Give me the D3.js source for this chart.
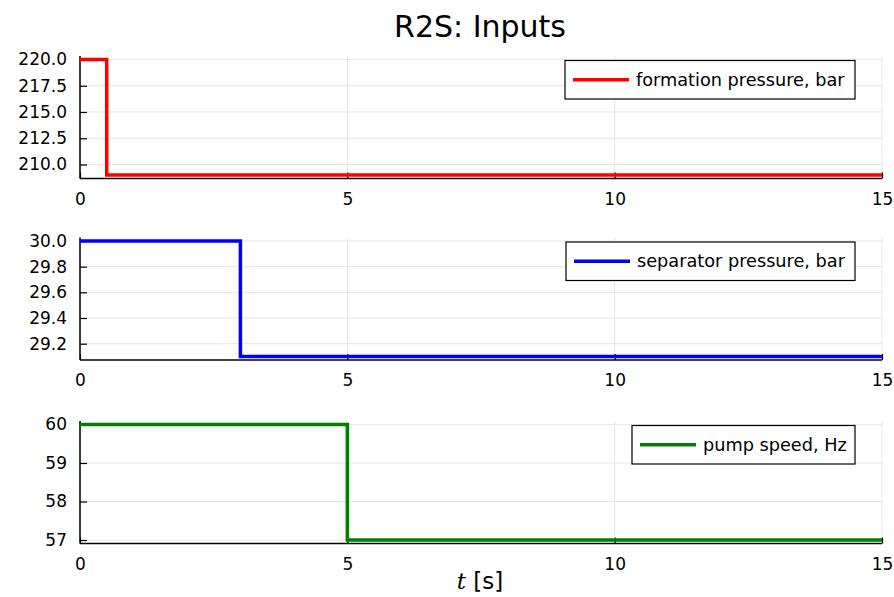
<!DOCTYPE html>
<html><head><meta charset="utf-8">
<script src="https://cdn.jsdelivr.net/npm/d3@7"></script>
<style>body{margin:0;background:#fff}svg{display:block}text{font-family:"DejaVu Sans",sans-serif}</style>
</head><body><svg id="c" width="894" height="597"></svg>
<script>
const title = "R2S: Inputs";
const xTicks = [0, 5, 10, 15];
const formationT = [0, 0.5, 15];
const formationP = [220, 209, 209];
const separatorT = [0, 3, 15];
const separatorP = [30, 29.1, 29.1];
const pumpT = [0, 5, 15];
const pumpHz = [60, 57, 57];
const yTicks1 = [210, 212.5, 215, 217.5, 220];
const yTicks2 = [29.2, 29.4, 29.6, 29.8, 30.0];
const yTicks3 = [57, 58, 59, 60];
const labels = ["formation pressure, bar", "separator pressure, bar", "pump speed, Hz"];
const colors = ["#ff0000", "#0000ff", "#008000"];

const panels = [
  {t: formationT, v: formationP, ticks: yTicks1, fmt: d3.format(".1f"), top: 56, legW: 290},
  {t: separatorT, v: separatorP, ticks: yTicks2, fmt: d3.format(".1f"), top: 237.5, legW: 289},
  {t: pumpT, v: pumpHz, ticks: yTicks3, fmt: d3.format("d"), top: 421, legW: 223}
];
const H = 122.5, L = 80, R = 882;
const svg = d3.select("#c");
const x = d3.scaleLinear().domain([0, 15]).range([L, R]);

svg.append("text").attr("x", 480).attr("y", 37).attr("text-anchor", "middle")
  .attr("font-size", 30).attr("fill", "#000").text(title);

panels.forEach((p, i) => {
  const mn = d3.min(p.v), mx = d3.max(p.v), pad = (mx - mn) * 0.03;
  const y = d3.scaleLinear().domain([mn - pad, mx + pad]).range([p.top + H, p.top]);
  const g = svg.append("g");
  g.selectAll(".gx").data(xTicks).join("line")
    .attr("x1", d => x(d)).attr("x2", d => x(d)).attr("y1", p.top).attr("y2", p.top + H)
    .attr("stroke", "#e6e6e6").attr("stroke-width", 1);
  g.selectAll(".gy").data(p.ticks).join("line")
    .attr("x1", L).attr("x2", R).attr("y1", d => y(d)).attr("y2", d => y(d))
    .attr("stroke", "#e6e6e6").attr("stroke-width", 1);
  const ax = g.append("g").attr("transform", `translate(0,${p.top + H})`)
    .call(d3.axisBottom(x).tickValues(xTicks).tickSize(-6).tickPadding(14).tickFormat(d3.format("d")));
  const ay = g.append("g").attr("transform", `translate(${L},0)`)
    .call(d3.axisLeft(y).tickValues(p.ticks).tickSize(-7).tickPadding(13).tickFormat(p.fmt));
  [ax, ay].forEach(a => {
    a.select(".domain").attr("stroke", "#000").attr("stroke-width", 1.5);
    a.selectAll(".tick line").attr("stroke", "#000").attr("stroke-width", 1.2);
    a.selectAll(".tick text").attr("font-size", 17).attr("fill", "#000").attr("font-family", "DejaVu Sans");
  });
  ay.select(".domain").attr("d", `M0,${p.top}V${p.top + H}`);
  ax.select(".domain").attr("d", `M${L},0H${R}`);
  const pts = p.t.map((t, k) => [t, p.v[k]]);
  g.append("path").datum(pts)
    .attr("d", d3.line().x(d => x(d[0])).y(d => y(d[1])).curve(d3.curveStepAfter))
    .attr("fill", "none").attr("stroke", colors[i]).attr("stroke-width", 3.5);
  const lx = 855 - p.legW, ly = p.top + 4.5, lh = 38.5;
  const lg = g.append("g");
  lg.append("rect").attr("x", lx).attr("y", ly).attr("width", p.legW).attr("height", lh)
    .attr("fill", "#fff").attr("stroke", "#000").attr("stroke-width", 1.2);
  lg.append("line").attr("x1", lx + 8).attr("x2", lx + 64).attr("y1", ly + lh / 2).attr("y2", ly + lh / 2)
    .attr("stroke", colors[i]).attr("stroke-width", 3.5);
  lg.append("text").attr("x", lx + 71).attr("y", ly + lh / 2 + 6).attr("font-size", 17.7).attr("fill", "#000")
    .text(labels[i]);
});

const xl = svg.append("text").attr("x", 480).attr("y", 589).attr("text-anchor", "middle").attr("font-size", 23);
xl.append("tspan").attr("font-style", "italic").attr("font-family", "DejaVu Serif").text("t");
xl.append("tspan").text(" [s]");
</script></body></html>
